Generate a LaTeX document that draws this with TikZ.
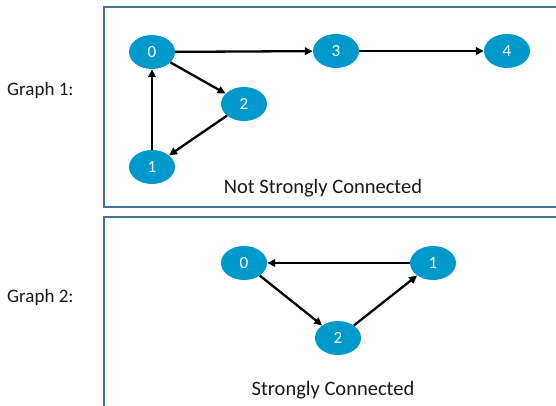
\documentclass[tikz,border=0pt]{standalone}
\usepackage{fontspec}
\setmainfont{Carlito}
\usetikzlibrary{shapes.geometric,arrows.meta}
\definecolor{nodeblue}{RGB}{0,153,204}
\definecolor{boxblue}{RGB}{65,113,156}
\tikzset{
  vert/.style={ellipse, fill=nodeblue, draw=none, minimum width=46pt, minimum height=34pt, inner sep=0pt, text=white, font=\fontsize{17}{17}\selectfont},
  edge/.style={-{Triangle[length=8pt,width=7.5pt]}, line width=2.3pt, black},
  frame/.style={draw=boxblue, line width=1.5pt},
  lbl/.style={font=\fontsize{19}{19}\selectfont, text=black!90, inner sep=0pt},
  captiontext/.style={font=\fontsize{20.5}{20.5}\selectfont, text=black!90, inner sep=0pt}
}
\begin{document}
\begin{tikzpicture}[x=1pt,y=-1pt]
\useasboundingbox (0,0) rectangle (556,406);
\fill[white] (0,0) rectangle (556,406);
% frames
\draw[frame] (560,7) -- (104,7) -- (104,207) -- (560,207);
\draw[frame] (560,217) -- (104,217) -- (104,410);
% side labels
\node[lbl, anchor=west] (g1) at (7,90) {Graph 1:};
\node[lbl, anchor=west] (g2) at (7,297) {Graph 2:};
% graph 1
\node[vert] (a0) at (152,52) {0};
\node[vert] (a3) at (336,51) {3};
\node[vert] (a4) at (507,51) {4};
\node[vert] (a2) at (244,104) {2};
\node[vert] (a1) at (152,167) {1};
\draw[edge] (a0) -- (a3);
\draw[edge] (a3) -- (a4);
\draw[edge] (a0) -- (a2);
\draw[edge] (a2) -- (a1);
\draw[edge] (a1) -- (a0);
\node[captiontext] (t1) at (323,188) {Not Strongly Connected};
% graph 2
\node[vert] (b0) at (244,263) {0};
\node[vert] (b1) at (433,263) {1};
\node[vert] (b2) at (338,338) {2};
\draw[edge] (b1) -- (b0);
\draw[edge] (b0) -- (b2);
\draw[edge] (b2) -- (b1);
\node[captiontext] (t2) at (333,390) {Strongly Connected};
\end{tikzpicture}
\end{document}
